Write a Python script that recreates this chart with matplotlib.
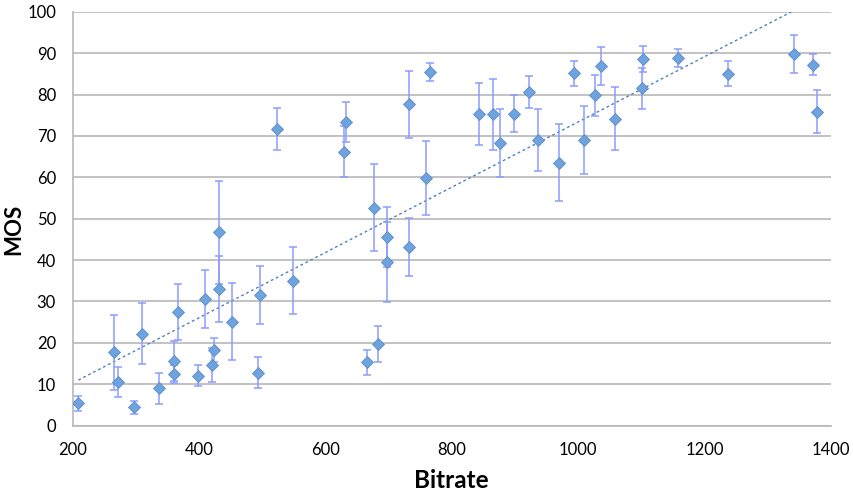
import numpy as np
import matplotlib
matplotlib.use("Agg")
import matplotlib.pyplot as plt

# mean opinion score per clip, with confidence half-widths
bitrate = [209, 266, 272, 297, 310, 336, 361, 361, 366, 399,
           410, 421, 423, 431, 432, 453, 493, 497, 523, 549,
           632, 629, 677, 666, 684, 698, 697, 733, 732, 765,
           760, 843, 865, 876, 899, 922, 937, 970, 994, 1010,
           1027, 1036, 1059, 1102, 1103, 1158, 1237, 1342, 1372, 1378]
mos = [5.4, 17.7, 10.5, 4.4, 22.2, 9.0, 15.7, 12.5, 27.5, 12.1,
       30.6, 14.7, 18.3, 33.0, 46.7, 25.1, 12.8, 31.6, 71.7, 35.0,
       73.4, 66.2, 52.6, 15.3, 19.7, 45.6, 39.5, 43.1, 77.6, 85.4,
       59.8, 75.3, 75.2, 68.3, 75.4, 80.6, 69.1, 63.5, 85.1, 69.0,
       79.8, 86.9, 74.1, 81.5, 88.6, 88.8, 85.0, 89.8, 87.2, 75.8]
ci = [1.8, 9.0, 3.6, 1.5, 7.4, 3.7, 4.8, 2.1, 6.7, 2.6,
      7.1, 4.1, 2.8, 7.9, 12.4, 9.3, 3.7, 7.0, 5.0, 8.1,
      4.8, 6.1, 10.5, 3.0, 4.4, 7.3, 9.7, 7.0, 8.1, 2.1,
      8.9, 7.5, 8.6, 8.2, 4.4, 3.8, 7.5, 9.3, 3.0, 8.2,
      4.9, 4.6, 7.6, 4.9, 3.2, 2.1, 3.0, 4.5, 2.6, 5.2]

x = np.array(bitrate, dtype=float)
y = np.array(mos, dtype=float)

plt.rcParams['font.family'] = ['Lato', 'DejaVu Sans']
fig = plt.figure(figsize=(8.54, 4.94), dpi=100)
ax = fig.add_axes([0.0851, 0.1383, 0.8876, 0.838])

ax.errorbar(x, y, yerr=ci, fmt='none', ecolor='#8c9cff', elinewidth=1.1,
            capsize=2.6, capthick=1.1, zorder=3)
ax.plot(x, y, 'D', ms=6.4, mfc='#6ea3de', mec='#5b8cc8', mew=0.6, zorder=4)

# linear trend over the data range
k, b = np.polyfit(x, y, 1)
xt = np.array([x.min(), x.max()])
ax.plot(xt, k * xt + b, color='#4f81bd', lw=1.0, ls=(0, (2, 2)), zorder=2)

ax.set_xlim(200, 1400)
ax.set_ylim(0, 100)
ax.set_xticks(np.arange(200, 1401, 200))
ax.set_yticks(np.arange(0, 101, 10))
ax.grid(axis='y', color='#b8b8b8', lw=1.2)
ax.set_axisbelow(True)
for s in ['top', 'right']:
    ax.spines[s].set_visible(False)
for s in ['left', 'bottom']:
    ax.spines[s].set_color('#b8b8b8')
    ax.spines[s].set_linewidth(1.2)
ax.tick_params(length=0, labelsize=12, pad=12)
ax.set_xlabel('Bitrate', fontsize=17.5, fontweight='bold')
ax.set_ylabel('MOS', fontsize=16, fontweight='bold')
ax.xaxis.set_label_coords(0.5, -0.105)
ax.yaxis.set_label_coords(-0.064, 0.475)

fig.savefig('out.png', dpi=100)
